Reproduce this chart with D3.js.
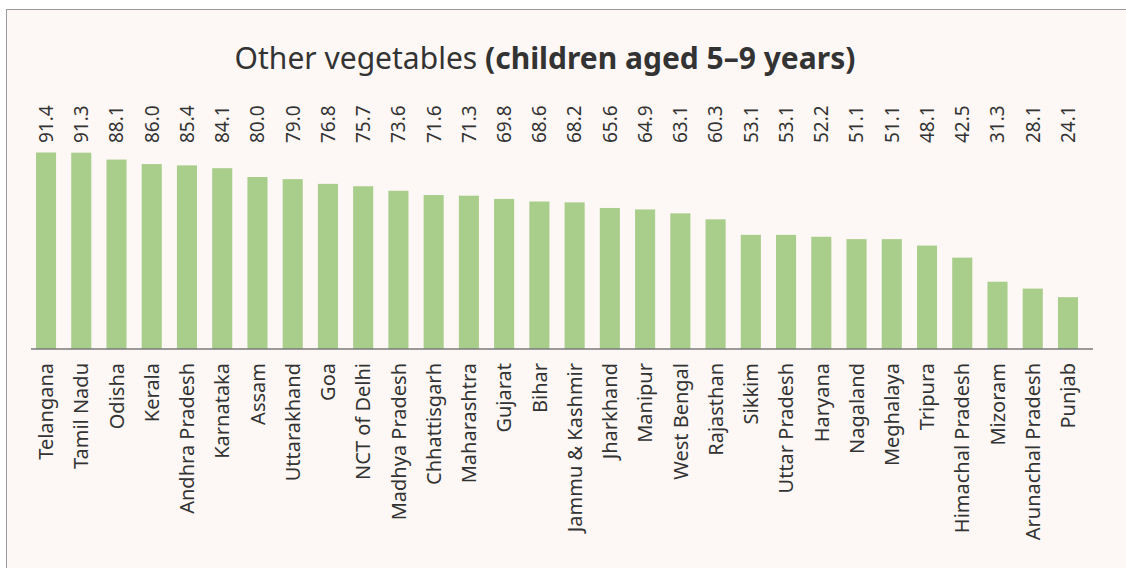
<!DOCTYPE html>
<html>
<head>
<meta charset="utf-8">
<script src="https://cdn.jsdelivr.net/npm/d3@7/dist/d3.min.js"></script>
<style>
  html, body { margin: 0; padding: 0; background: #ffffff; }
  svg { display: block; }
</style>
</head>
<body>
<svg id="chart" width="1126" height="568"></svg>
<script>
const categories = ["Telangana","Tamil Nadu","Odisha","Kerala","Andhra Pradesh","Karnataka","Assam","Uttarakhand","Goa","NCT of Delhi","Madhya Pradesh","Chhattisgarh","Maharashtra","Gujarat","Bihar","Jammu & Kashmir","Jharkhand","Manipur","West Bengal","Rajasthan","Sikkim","Uttar Pradesh","Haryana","Nagaland","Meghalaya","Tripura","Himachal Pradesh","Mizoram","Arunachal Pradesh","Punjab"];
const values = [91.4,91.3,88.1,86.0,85.4,84.1,80.0,79.0,76.8,75.7,73.6,71.6,71.3,69.8,68.6,68.2,65.6,64.9,63.1,60.3,53.1,53.1,52.2,51.1,51.1,48.1,42.5,31.3,28.1,24.1];
const yDomain = [0, 100];
const titleLight = "Other vegetables ";
const titleBold = "(children aged 5\u20139 years)";

const svg = d3.select("#chart");
const W = 1126, H = 568;
const font = "'Noto Sans', sans-serif";
const textColor = "#333333";

// panel
svg.append("rect").attr("x", 6.5).attr("y", 9.5).attr("width", W).attr("height", H)
  .attr("fill", "#fdf8f5").attr("stroke", "#9a9a9a").attr("stroke-width", 1);

const baseline = 349;
const x = d3.scaleBand().domain(categories).range([28.4, 1085.6]).paddingInner(0.43).paddingOuter(0.215);
const y = d3.scaleLinear().domain(yDomain).range([baseline, 134]);

// title
const title = svg.append("text").attr("x", 545).attr("y", 69).attr("text-anchor", "middle")
  .attr("font-family", font).attr("font-size", 30).attr("fill", textColor);
title.append("tspan").attr("font-weight", 400).text(titleLight);
title.append("tspan").attr("font-weight", 700).text(titleBold);

// bars
svg.append("g").selectAll("rect").data(values).join("rect")
  .attr("x", (d, i) => x(categories[i]))
  .attr("width", x.bandwidth())
  .attr("y", d => y(d))
  .attr("height", d => baseline - y(d))
  .attr("fill", "#a9cd8a");

// value labels
svg.append("g").selectAll("text").data(values).join("text")
  .attr("transform", (d, i) => `translate(${x(categories[i]) + x.bandwidth() / 2},143) rotate(-90)`)
  .attr("dy", "0.36em")
  .attr("text-anchor", "start")
  .attr("font-family", font).attr("font-size", 19).attr("fill", textColor)
  .text(d => d.toFixed(1));

// x axis
const axis = svg.append("g").attr("transform", `translate(0,${baseline})`)
  .call(d3.axisBottom(x).tickSize(0).tickPadding(0));
axis.select(".domain").attr("d", "M31,0H1093").attr("stroke", "#7a7a7a").attr("stroke-width", 1.5);
axis.selectAll(".tick text")
  .attr("transform", "translate(0,14) rotate(-90)")
  .attr("x", 0).attr("y", 0).attr("dy", "0.36em")
  .attr("text-anchor", "end")
  .attr("font-family", font).attr("font-size", 20).attr("fill", textColor);
</script>
</body>
</html>
